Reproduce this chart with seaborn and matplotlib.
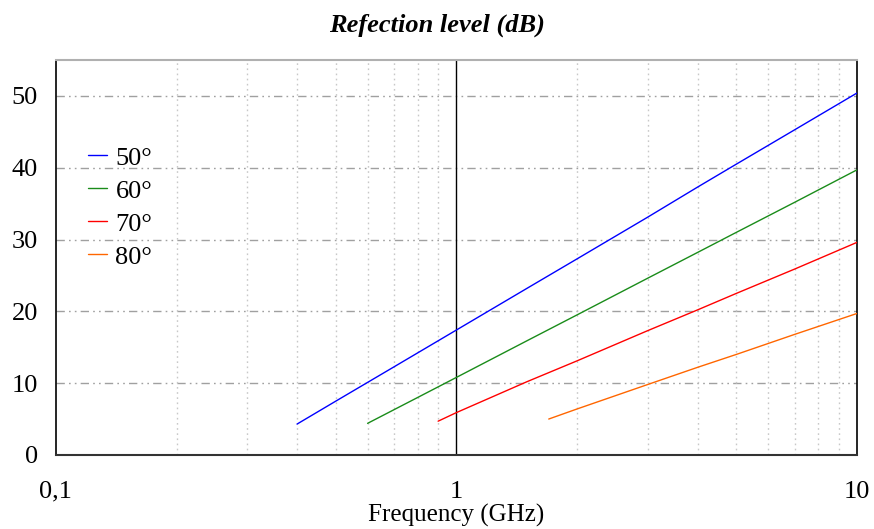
import numpy as np
import pandas as pd
import matplotlib
matplotlib.use("Agg")
import matplotlib.pyplot as plt
from matplotlib.ticker import FixedLocator, FixedFormatter, NullFormatter
import seaborn as sns

# Reflection level vs frequency for each incidence angle
angles = ["50°", "60°", "70°", "80°"]

freq_50 = [0.4, 0.5, 0.7, 1.0, 1.5, 2.0, 3.0, 4.0, 5.0, 7.0, 10.0]
level_50 = [4.3, 7.5, 12.3, 17.4, 23.2, 27.3, 33.1, 37.3, 40.5, 45.3, 50.4]

freq_60 = [0.6, 0.8, 1.0, 1.5, 2.0, 3.0, 4.0, 5.0, 7.0, 10.0]
level_60 = [4.4, 8.0, 10.8, 15.9, 19.5, 24.6, 28.2, 31.0, 35.2, 39.7]

freq_70 = [0.9, 1.0, 1.5, 2.0, 3.0, 4.0, 5.0, 7.0, 10.0]
level_70 = [4.7, 5.9, 10.2, 13.1, 17.3, 20.2, 22.5, 25.9, 29.6]

freq_80 = [1.7, 2.0, 3.0, 4.0, 5.0, 7.0, 10.0]
level_80 = [5.0, 6.4, 9.8, 12.2, 14.0, 16.8, 19.7]

x_major = [0.1, 1, 10]
x_major_labels = ["0,1", "1", "10"]
y_ticks = [0, 10, 20, 30, 40, 50]

colors = ["#0000ff", "#1a8c1a", "#ff0000", "#ff6600"]

frames = []
for ang, f, lv in zip(angles, [freq_50, freq_60, freq_70, freq_80],
                      [level_50, level_60, level_70, level_80]):
    frames.append(pd.DataFrame({"freq": f, "level": lv, "angle": ang}))
df = pd.concat(frames, ignore_index=True)

sns.set_style("white")
plt.rcParams["font.family"] = ["Liberation Serif", "DejaVu Serif"]
plt.rcParams["text.color"] = "black"
plt.rcParams["axes.labelcolor"] = "black"
plt.rcParams["xtick.labelcolor"] = "black"
plt.rcParams["ytick.labelcolor"] = "black"

fig = plt.figure(figsize=(8.74, 5.29), dpi=100)
ax = fig.add_axes([0.064, 0.14, 0.9165, 0.7466])

ax.set_xscale("log")
ax.set_xlim(0.1, 10)
ax.set_ylim(0, 55)

# grid: dash-dot-dot horizontals, dotted verticals at minor decades
for y in y_ticks[1:]:
    ax.axhline(y, color="#a0a0a0", lw=1.0, dashes=(6, 3, 1.2, 3, 1.2, 3), zorder=1)
minor_x = [m * d for d in (0.1, 1) for m in range(2, 10)]
for xv in minor_x:
    ax.axvline(xv, color="#c8c8c8", lw=1.0, dashes=(1.2, 2.5), zorder=1)
ax.axvline(1, color="black", lw=1.0, zorder=2)

sns.lineplot(data=df, x="freq", y="level", hue="angle", palette=colors,
             hue_order=angles, ax=ax, lw=1.0, sort=True, estimator=None, zorder=3)

ax.xaxis.set_major_locator(FixedLocator(x_major))
ax.xaxis.set_major_formatter(FixedFormatter(x_major_labels))
ax.xaxis.set_minor_locator(FixedLocator(minor_x))
ax.xaxis.set_minor_formatter(NullFormatter())
ax.set_yticks(y_ticks)
ax.set_yticklabels([str(v) for v in y_ticks])

ax.tick_params(axis="x", which="both", direction="inout", length=13, width=1.2,
               color="#222222", labelcolor="black", labelsize=19, pad=12)
ax.tick_params(axis="y", which="major", direction="out", length=7, width=1.5,
               color="#666666", labelcolor="black", labelsize=19, pad=6)

for side in ["left", "right"]:
    ax.spines[side].set_color("black")
    ax.spines[side].set_linewidth(1.2)
ax.spines["top"].set_color("#b0b0b0")
ax.spines["top"].set_linewidth(1.5)
ax.spines["bottom"].set_color("#333333")
ax.spines["bottom"].set_linewidth(1.5)
for s in ax.spines.values():
    s.set_visible(True)

ax.set_xlabel("Frequency (GHz)", fontsize=18, labelpad=1, color="black")
ax.set_ylabel("")

leg = ax.legend(loc="upper left", bbox_to_anchor=(0.01, 0.842), frameon=False,
                fontsize=19, handlelength=0.75, handletextpad=0.3, labelspacing=0.36)
for t in leg.get_texts():
    t.set_color("black")

fig.text(0.5, 0.953, "Refection level (dB)", ha="center", va="center",
         fontsize=19, fontweight="bold", fontstyle="italic", color="black")

fig.savefig("out.png", dpi=100)
